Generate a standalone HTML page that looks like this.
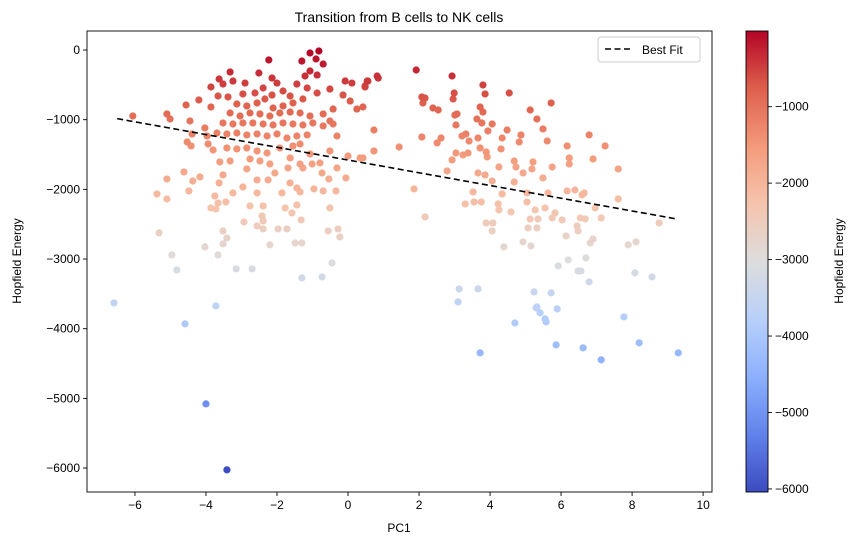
<!DOCTYPE html>
<html><head><meta charset="utf-8"><style>
html,body{margin:0;padding:0;background:#fff;}
svg{display:block;font-family:"Liberation Sans","DejaVu Sans",sans-serif;}
</style></head><body>
<svg id="chart" width="854" height="545" viewBox="0 0 854 545"></svg>
<script>
const pcX = [-6.06,-5.1,-5.01,-4.56,-4.2,-3.86,-4.45,-4.39,-4.53,-4.42,-4.03,-3.97,-3.94,-3.8,-3.86,-3.63,-3.32,-3.52,-3.66,-3.38,-3.24,-2.9,-2.96,-2.62,-2.51,-2.23,-2.14,-2.0,-2.39,-2.14,-1.83,-1.63,-1.44,-1.21,-1.07,-1.3,-1.07,-0.82,-0.9,-0.7,-0.87,-1.15,-0.87,-0.51,-0.08,0.11,0.54,0.48,-0.14,0.06,0.42,0.25,
-3.13,-2.85,-2.56,-2.34,-2.11,-1.83,-1.55,-1.27,-3.32,-3.04,-2.76,-2.48,-2.2,-1.92,-1.63,-1.35,-1.07,-0.7,-0.42,-0.51,-0.7,-0.42,-3.52,-3.24,-2.96,-2.68,-2.39,-2.11,-1.83,-1.55,-1.27,-0.99,-3.69,-3.41,-3.13,-2.85,-2.56,-2.28,-2.0,-1.72,-1.44,-1.15,-0.31,-3.41,-3.13,-2.85,-2.56,-2.28,-1.92,-1.55,-1.35,-1.07,-0.51,0.0,0.34,-3.61,-3.32,-2.76,-2.48,-2.2,-1.63,-1.35,-1.01,-0.79,-2.85,-2.06,-1.69,-1.27,-0.73,-0.31,-0.06,-0.54,
-4.62,-5.1,-4.17,-4.37,-3.52,-3.63,-2.56,-2.25,-1.63,-1.44,-4.48,-5.38,-5.1,-3.24,-2.96,-2.56,-1.86,-1.35,-0.96,-0.7,-0.34,-3.75,-3.66,-3.44,-3.86,-3.72,-2.76,-2.39,-1.77,-1.58,-1.44,-0.51,-2.42,-2.39,-2.93,-1.32,-2.56,-2.39,-1.97,-1.72,-5.32,-3.52,-3.41,-3.52,-4.03,-2.2,-1.49,-1.3,-0.56,-0.28,-0.23,-4.96,-3.66,-4.82,-3.15,-2.7,-0.45,-1.3,-0.73,
-6.59,-4.59,-3.72,-4.0,-3.41,
0.42,0.48,0.56,0.82,0.85,0.73,0.73,1.44,1.92,2.08,2.17,2.11,2.39,2.54,2.08,2.51,2.62,1.86,2.17,2.93,2.99,2.96,3.07,3.01,3.04,3.21,3.32,3.41,3.04,3.24,3.38,2.93,2.79,3.8,3.86,3.72,3.8,3.63,3.77,4.06,3.94,4.48,3.66,3.72,3.89,3.92,4.54,4.34,4.31,4.87,4.82,3.66,3.86,4.06,4.25,4.68,4.73,4.93,5.21,5.18,4.68,3.52,3.55,3.75,3.3,4.34,4.23,4.25,4.59,5.04,5.04,5.27,5.55,5.13,5.35,3.89,4.08,4.06,5.07,5.32,4.39,4.93,5.15,5.13,5.32,5.49,5.61,5.72,5.49,5.63,5.83,5.75,5.75,6.03,6.17,6.23,6.23,6.17,6.39,6.65,6.59,6.14,6.45,6.48,6.54,6.68,6.82,6.9,6.79,6.9,7.24,6.96,7.13,7.61,7.61,7.89,8.11,8.76,5.92,6.2,6.7,6.48,6.56,6.79,8.08,8.56,
3.13,3.66,3.1,5.24,5.72,5.3,5.32,5.41,5.55,5.89,5.58,4.7,3.72,5.86,6.62,7.13,7.77,8.2,9.3];
const energy = [-947,-918,-990,-789,-717,-818,-1019,-1205,-1320,-1377,-1119,-1234,-1349,-1435,-531,-416,-316,-488,-660,-674,-445,-474,-631,-617,-330,-143,-402,-474,-545,-646,-588,-660,-488,-373,-301,-158,-43,-14,-129,-201,-359,-545,-617,-560,-445,-474,-445,-531,-646,-732,-818,-847,
-775,-803,-760,-703,-832,-803,-760,-703,-904,-947,-904,-918,-947,-904,-890,-904,-947,-918,-847,-1019,-1090,-1062,-1047,-1062,-1047,-1047,-1062,-1076,-1047,-1062,-1076,-1047,-1191,-1205,-1191,-1219,-1205,-1234,-1205,-1263,-1234,-1219,-1234,-1406,-1420,-1406,-1449,-1478,-1406,-1377,-1349,-1492,-1449,-1521,-1549,-1607,-1593,-1564,-1593,-1636,-1549,-1636,-1636,-1621,-1707,-1765,-1693,-1693,-1765,-1693,-1836,-1851,
-1750,-1851,-1822,-1880,-1793,-1908,-1865,-1865,-1908,-1980,-2023,-2066,-2138,-2052,-1966,-2052,-2052,-2037,-1994,-2023,-2023,-2095,-2195,-2181,-2267,-2281,-2238,-2238,-2267,-2338,-2224,-2267,-2382,-2453,-2468,-2439,-2525,-2568,-2568,-2568,-2625,-2597,-2697,-2783,-2826,-2797,-2769,-2769,-2597,-2568,-2683,-2941,-2941,-3156,-3142,-3142,-3056,-3271,-3257,
-3630,-3931,-3673,-5079,-6026,
-1549,-516,-445,-373,-402,-1148,-1449,-1392,-287,-674,-689,-760,-832,-861,-1248,-1334,-1263,-1994,-2396,-373,-617,-703,-918,-933,-1076,-1234,-1205,-1306,-1478,-1506,-1478,-1578,-1736,-502,-631,-818,-890,-990,-1047,-1062,-1162,-1148,-1263,-1406,-1463,-1535,-617,-1263,-1420,-1219,-1320,-1765,-1793,-1880,-1679,-1593,-1679,-1765,-1607,-1707,-1894,-2037,-2181,-2181,-2209,-2066,-2209,-2296,-2324,-2052,-2181,-2296,-2267,-2425,-2425,-2482,-2482,-2597,-2554,-2554,-2826,-2754,-2812,-861,-990,-1133,-1306,-760,-1836,-2052,-2338,-1679,-2410,-2439,-1377,-1549,-1636,-2023,-2009,-2052,-2080,-2669,-2525,-2597,-2410,-2425,-2769,-2712,-1219,-1564,-1377,-2267,-2410,-1707,-2138,-2797,-2754,-2482,-3099,-3013,-2984,-3171,-3171,-3328,-3199,-3257,
-3429,-3429,-3616,-3472,-3486,-3701,-3687,-3773,-3859,-3716,-3902,-3917,-4347,-4232,-4275,-4447,-3831,-4203,-4347];
const xTicks = [-6,-4,-2,0,2,4,6,8,10];
const yTicks = [0,-1000,-2000,-3000,-4000,-5000,-6000];
const cbTicks = [-1000,-2000,-3000,-4000,-5000,-6000];
const fitSlope = [-91.4];
const fitIntercept = [-1579];
const fitRange = [-6.5, 9.25];
const colorLimits = [-6040, -10];

const NS="http://www.w3.org/2000/svg";
const svg=document.getElementById('chart');
const L=87,R=712,T=31,B=492;
const xMin=-7.35,xMax=10.25,yMin=-6344,yMax=273;
const sx=v=>L+(v-xMin)/(xMax-xMin)*(R-L);
const sy=v=>B-(v-yMin)/(yMax-yMin)*(B-T);
function mk(tag,attrs,parent){const e=document.createElementNS(NS,tag);for(const k in attrs)e.setAttribute(k,attrs[k]);(parent||svg).appendChild(e);return e;}
const stops=[[59,76,192],[98,130,234],[141,176,254],[184,208,249],[221,221,221],[245,196,173],[244,154,123],[222,96,77],[180,4,38]];
function cmap(t){t=Math.max(0,Math.min(1,t));const p=t*8;const i=Math.min(7,Math.floor(p));const f=p-i;const a=stops[i],b=stops[i+1];return 'rgb('+a.map((c,k)=>Math.round(c+(b[k]-c)*f)).join(',')+')';}
const cnorm=v=>(v-colorLimits[0])/(colorLimits[1]-colorLimits[0]);

// points
const pg=mk('g',{});


const order=pcX.map((_,i)=>i).sort((a,b)=>energy[a]-energy[b]);
order.forEach(i=>{
  const c=mk('circle',{cx:sx(pcX[i]),cy:sy(energy[i]),r:3.6,fill:cmap(cnorm(energy[i]))},pg);
  
  
});
// fit line
const fl=mk('line',{x1:sx(fitRange[0]),y1:sy(fitSlope[0]*fitRange[0]+fitIntercept[0]),x2:sx(fitRange[1]),y2:sy(fitSlope[0]*fitRange[1]+fitIntercept[0]),stroke:'#000','stroke-width':1.6,'stroke-dasharray':'6,3.5'});


// frame
const fr=mk('rect',{x:L,y:T,width:R-L,height:B-T,fill:'none',stroke:'#000','stroke-width':0.9});


// x ticks
xTicks.forEach(v=>{
  const x=sx(v);
  mk('line',{x1:x,y1:B,x2:x,y2:B+4,stroke:'#000','stroke-width':0.9});
  const t=mk('text',{x:x,y:B+17,'text-anchor':'middle','font-size':12,fill:'#000'});
  t.textContent=(v<0?'\u2212'+(-v):v);
  
  
});
yTicks.forEach(v=>{
  const y=sy(v);
  mk('line',{x1:L-4,y1:y,x2:L,y2:y,stroke:'#000','stroke-width':0.9});
  const t=mk('text',{x:L-7,y:y+4,'text-anchor':'end','font-size':12,fill:'#000'});
  t.textContent=(v<0?'\u2212'+(-v):v);
  
  
});
// colorbar
const CL=746,CR=768,CT=31,CB=492;
const defs=mk('defs',{});
const lg=mk('linearGradient',{id:'cg',x1:0,y1:1,x2:0,y2:0},defs);
for(let k=0;k<=8;k++)mk('stop',{offset:k/8,'stop-color':cmap(k/8)},lg);
const cb=mk('rect',{x:CL,y:CT,width:CR-CL,height:CB-CT,fill:'url(#cg)',stroke:'#000','stroke-width':0.9});


const cy=v=>CB-cnorm(v)*(CB-CT);
cbTicks.forEach(v=>{
  const y=cy(v);
  mk('line',{x1:CR,y1:y,x2:CR+4,y2:y,stroke:'#000','stroke-width':0.9});
  const t=mk('text',{x:CR+7,y:y+4,'font-size':12,fill:'#000'});
  t.textContent='\u2212'+(-v);
  
  
});
</script>
<script>
(function(){
const svg=document.getElementById('chart');const NS="http://www.w3.org/2000/svg";
function mk(tag,attrs){const e=document.createElementNS(NS,tag);for(const k in attrs)e.setAttribute(k,attrs[k]);svg.appendChild(e);return e;}
let t=mk('text',{x:399,y:22,'text-anchor':'middle','font-size':14});t.textContent='Transition from B cells to NK cells';


t=mk('text',{x:399,y:532,'text-anchor':'middle','font-size':12});t.textContent='PC1';


t=mk('text',{x:21,y:261,'text-anchor':'middle','font-size':12,transform:'rotate(-90 21 261)'});t.textContent='Hopfield Energy';


t=mk('text',{x:843,y:261,'text-anchor':'middle','font-size':12,transform:'rotate(-90 843 261)'});t.textContent='Hopfield Energy';


const lb=mk('rect',{x:598,y:37,width:102,height:25,rx:3,fill:'#fff',stroke:'#ccc','stroke-width':1});


const ll=mk('line',{x1:605,y1:49,x2:633,y2:49,stroke:'#000','stroke-width':1.6,'stroke-dasharray':'6,3.5'});


t=mk('text',{x:642,y:54,'font-size':12});t.textContent='Best Fit';


})();
</script>
</body></html>
